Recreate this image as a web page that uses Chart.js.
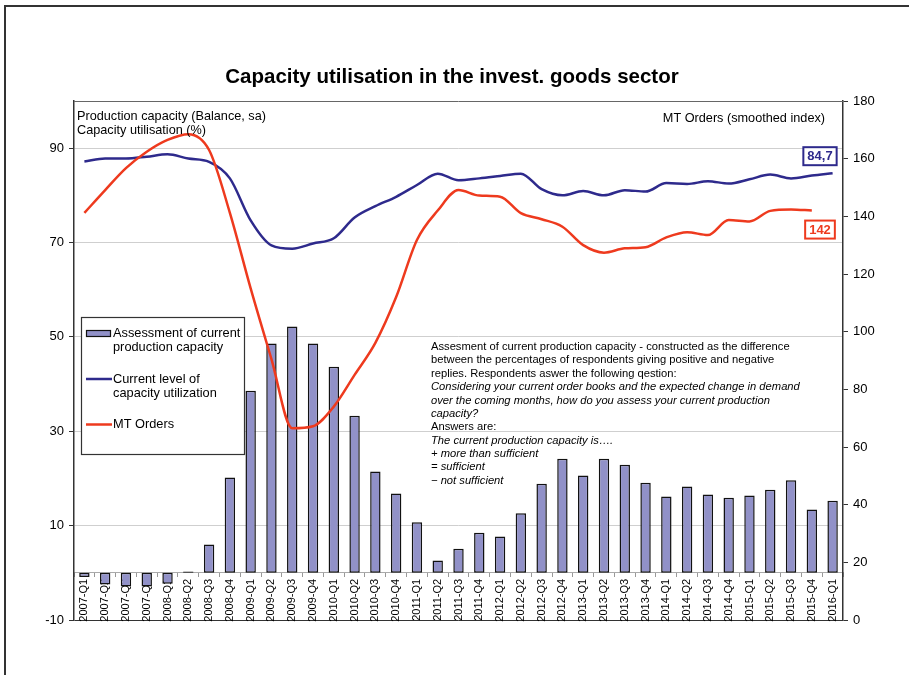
<!DOCTYPE html>
<html><head><meta charset="utf-8">
<script src="https://cdn.jsdelivr.net/npm/chart.js@4.4.1/dist/chart.umd.min.js"></script>
<style>html,body{margin:0;padding:0;background:#fff}#wrap{width:909px;height:675px}</style>
</head><body><div id="wrap"><canvas id="c" width="909" height="675"></canvas></div>
<script>
const categories = ['2007-Q1','2007-Q2','2007-Q3','2007-Q4','2008-Q1','2008-Q2','2008-Q3','2008-Q4',
  '2009-Q1','2009-Q2','2009-Q3','2009-Q4','2010-Q1','2010-Q2','2010-Q3','2010-Q4',
  '2011-Q1','2011-Q2','2011-Q3','2011-Q4','2012-Q1','2012-Q2','2012-Q3','2012-Q4',
  '2013-Q1','2013-Q2','2013-Q3','2013-Q4','2014-Q1','2014-Q2','2014-Q3','2014-Q4',
  '2015-Q1','2015-Q2','2015-Q3','2015-Q4','2016-Q1'];
const assessment = [-0.9,-2.5,-2.9,-2.9,-2.3,0.3,6.0,20.2,
  38.6,48.6,52.2,48.6,43.7,33.3,21.5,16.8,
  10.7,2.6,5.1,8.5,7.7,12.6,18.9,24.2,
  20.6,24.2,22.9,19.1,16.2,18.3,16.6,15.9,
  16.4,17.6,19.6,13.4,15.3];
const utilization = [87.2,87.8,87.8,88.2,88.7,87.8,87.1,83.6,
  74.7,69.4,68.7,69.8,70.9,75.3,77.7,79.7,
  82.2,84.6,83.2,83.6,84.1,84.6,81.3,80.0,
  80.9,80.0,81.1,80.8,82.6,82.4,83.0,82.5,
  83.4,84.4,83.6,84.2,84.7];
const mtOrders = [141.2,149.1,156.7,162.4,166.5,168.5,163.0,141.2,
  115.0,90.5,66.5,67.2,74.0,85.0,96.1,112.0,
  131.8,142.0,149.1,147.2,146.8,141.1,139.0,136.4,
  130.0,127.4,128.9,129.3,132.7,134.5,133.5,138.7,
  138.2,141.9,142.4,142.0,null];
const leftTicks = [-10,10,30,50,70,90];
const rightTicks = [0,20,40,60,80,100,120,140,160,180];
const seriesNames = [['Assessment of current','production capacity'],['Current level of','capacity utilization'],['MT Orders']];
const titleText = 'Capacity utilisation in the invest. goods sector';
const leftAxisTitle = ['Production capacity (Balance, sa)','Capacity utilisation (%)'];
const rightAxisTitle = 'MT Orders (smoothed index)';
const noteLines = [
  ['Assesment of current production capacity - constructed as the difference', false],
  ['between the percentages of respondents giving positive and negative', false],
  ['replies. Respondents aswer the following qestion:', false],
  ['Considering your current order books and the expected change in demand', true],
  ['over the coming months, how do you assess your current production', true],
  ['capacity?', true],
  ['Answers are:', false],
  ['The current production capacity is\u2026.', true],
  ['+ more than sufficient', true],
  ['= sufficient', true],
  ['\u2212 not sufficient', true]
];

const FONT = '"Liberation Sans", Arial, sans-serif';
const BAR_COLOR = '#9191c8';
const BLUE = '#2e2a8c';
const RED = '#ee3a1e';

function fmt(v){ return String(v).replace('.', ','); }

const overlay = {
  id: 'overlay',
  beforeDraw(chart){
    const ctx = chart.ctx;
    ctx.save();
    ctx.fillStyle = '#fff';
    ctx.fillRect(0,0,chart.width,chart.height);
    ctx.strokeStyle = '#333';
    ctx.lineWidth = 2;
    ctx.strokeRect(5,6,chart.width+20,chart.height+20);
    ctx.restore();
  },
  afterDraw(chart){
    const ctx = chart.ctx;
    const a = chart.chartArea;
    ctx.save();
    ctx.strokeStyle = '#666';
    ctx.lineWidth = 1;
    ctx.beginPath(); ctx.moveTo(a.left, a.top+0.5); ctx.lineTo(a.right, a.top+0.5); ctx.stroke();
    ctx.fillStyle = '#000';
    ctx.font = 'bold 20.5px ' + FONT;
    ctx.textAlign = 'center'; ctx.textBaseline = 'middle';
    ctx.fillText(titleText, 452, 77);
    ctx.font = '12.7px ' + FONT;
    ctx.textAlign = 'left';
    ctx.fillText(leftAxisTitle[0], a.left+3, 116);
    ctx.fillText(leftAxisTitle[1], a.left+3, 130);
    ctx.textAlign = 'right';
    ctx.fillText(rightAxisTitle, a.right-18, 118);
    const lx = 81, ly = 317, lw = 163, lh = 137;
    ctx.fillStyle = '#fff';
    ctx.fillRect(lx, ly, lw, lh);
    ctx.strokeStyle = '#333'; ctx.lineWidth = 1.2;
    ctx.strokeRect(lx+0.5, ly+0.5, lw, lh);
    const ds = chart.data.datasets;
    ctx.fillStyle = ds[0].backgroundColor;
    ctx.fillRect(86, 330, 25, 6);
    ctx.strokeStyle = '#111'; ctx.lineWidth = 1.2;
    ctx.strokeRect(86.5, 330.5, 24, 6);
    ctx.lineWidth = 2.5;
    ctx.strokeStyle = ds[1].borderColor;
    ctx.beginPath(); ctx.moveTo(86, 379); ctx.lineTo(112, 379); ctx.stroke();
    ctx.strokeStyle = ds[2].borderColor;
    ctx.beginPath(); ctx.moveTo(86, 424.5); ctx.lineTo(112, 424.5); ctx.stroke();
    ctx.fillStyle = '#000';
    ctx.font = '12.8px ' + FONT;
    ctx.textAlign = 'left'; ctx.textBaseline = 'middle';
    const ys = [[333.5,347.5],[379,393],[424.5]];
    seriesNames.forEach((lines,i)=>lines.forEach((t,j)=>ctx.fillText(t, 113, ys[i][j])));
    noteLines.forEach((l,i)=>{
      ctx.font = (l[1] ? 'italic ' : '') + '11.2px ' + FONT;
      ctx.fillText(l[0], 431, 347 + i*13.35);
    });
    const yL = chart.scales.y, yR = chart.scales.y1;
    const lastU = utilization[utilization.length-1];
    let lastM = null; for (let i=mtOrders.length-1;i>=0;i--){ if(mtOrders[i]!==null){ lastM = mtOrders[i]; break; } }
    function box(text, color, cx, cy){
      ctx.font = 'bold 13px ' + FONT;
      const w = ctx.measureText(text).width + 8, h = 18;
      ctx.fillStyle = '#fff';
      ctx.fillRect(cx - w/2, cy - h/2, w, h);
      ctx.strokeStyle = color; ctx.lineWidth = 2;
      ctx.strokeRect(cx - w/2, cy - h/2, w, h);
      ctx.fillStyle = color; ctx.textAlign = 'center'; ctx.textBaseline = 'middle';
      ctx.fillText(text, cx, cy + 0.5);
    }
    box(fmt(lastU), BLUE, a.right - 23, yL.getPixelForValue(lastU) - 17);
    box(fmt(lastM), RED, a.right - 23, yR.getPixelForValue(lastM) + 19);
    ctx.restore();
  }
};

new Chart(document.getElementById('c'), {
  data: {
    labels: categories,
    datasets: [
      { type:'bar', label:'Assessment of current production capacity', data: assessment, yAxisID:'y',
        backgroundColor: BAR_COLOR, borderColor:'#111', borderWidth:1.5, borderSkipped:false,
        barPercentage:0.5, categoryPercentage:1, order:3 },
      { type:'line', label:'Current level of capacity utilization', data: utilization, yAxisID:'y',
        borderColor: BLUE, borderWidth:2.5, pointRadius:0, fill:false, tension:0.4,
        cubicInterpolationMode:'monotone', order:2 },
      { type:'line', label:'MT Orders', data: mtOrders, yAxisID:'y1',
        borderColor: RED, borderWidth:2.5, pointRadius:0, fill:false, tension:0.4,
        cubicInterpolationMode:'monotone', order:1 }
    ]
  },
  options: {
    responsive:false, animation:false, devicePixelRatio:1,
    layout:{ padding:{ top:101, bottom:55, left:0, right:0 } },
    plugins:{ legend:{display:false}, tooltip:{enabled:false}, title:{display:false} },
    scales:{
      x:{ type:'category', position:{ y:0 }, offset:true,
        grid:{ offset:true, drawOnChartArea:false, drawTicks:true, tickLength:4, color:'#999' },
        border:{ color:'#aaa', width:1 },
        ticks:{ autoSkip:false, minRotation:90, maxRotation:90, padding:2, color:'#000',
          font:{ family:FONT, size:11 } } },
      y:{ type:'linear', position:'left', min:-10, max:100,
        afterBuildTicks: s => { s.ticks = leftTicks.map(v => ({ value:v })); },
        afterFit: s => { s.width = 74; },
        grid:{ color: c => (c.tick && c.tick.value === -10) ? '#333' : '#cfcfcf', lineWidth:1,
          drawTicks:true, tickLength:5, tickColor:'#333' },
        border:{ color:'#333', width:1.5 },
        ticks:{ color:'#000', padding:5, font:{ family:FONT, size:13 } } },
      y1:{ type:'linear', position:'right', min:0, max:180,
        afterBuildTicks: s => { s.ticks = rightTicks.map(v => ({ value:v })); },
        afterFit: s => { s.width = 66; },
        grid:{ drawOnChartArea:false, drawTicks:true, tickLength:5, color:'#333' },
        border:{ color:'#333', width:1.5 },
        ticks:{ color:'#000', padding:5, font:{ family:FONT, size:13 } } }
    }
  },
  plugins:[overlay]
});
</script></body></html>
